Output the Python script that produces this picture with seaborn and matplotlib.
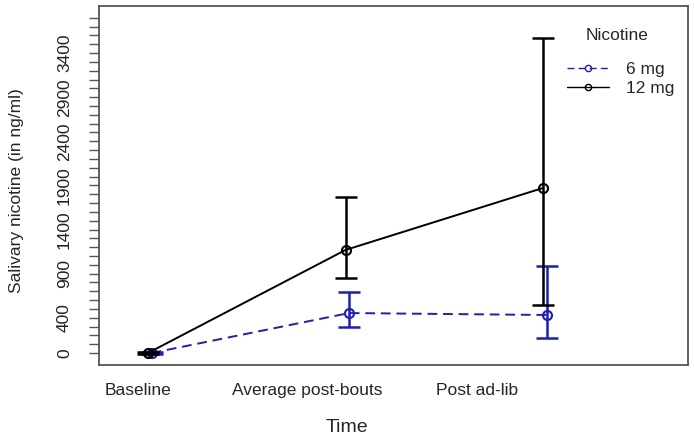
import numpy as np
import pandas as pd
import matplotlib
matplotlib.use("Agg")
import matplotlib.pyplot as plt
import seaborn as sns

times = ["Baseline", "Average post-bouts", "Post ad-lib"]
doses = ["6 mg", "12 mg"]
mean_6 = [0, 453, 431]
low_6 = [-15, 295, 170]
high_6 = [15, 692, 986]
mean_12 = [0, 1168, 1871]
low_12 = [-15, 850, 544]
high_12 = [15, 1769, 3571]

yticks_major = [0, 400, 900, 1400, 1900, 2400, 2900, 3400]

sns.set_theme(style="white")
plt.rcParams["font.family"] = ["Liberation Sans", "DejaVu Sans"]

pos = np.arange(len(times))
df = pd.DataFrame({
    "x": np.concatenate([pos + 0.018, pos]),
    "y": mean_6 + mean_12,
    "lo": low_6 + low_12,
    "hi": high_6 + high_12,
    "Nicotine": [doses[0]] * 3 + [doses[1]] * 3,
})

colors = {"6 mg": "#1c1cc4", "12 mg": "black"}
fig = plt.figure(figsize=(6.94, 4.38), dpi=100)
ax = fig.add_axes([99 / 694, 73 / 438, 589 / 694, 359 / 438])

sns.lineplot(data=df, x="x", y="y", hue="Nicotine", style="Nicotine",
             palette=colors, dashes={"6 mg": (5, 3), "12 mg": ""},
             markers={"6 mg": "o", "12 mg": "o"}, markersize=6.5,
             markeredgewidth=1.5, linewidth=1.4, ax=ax, legend=True)
# open circles, 12 mg drawn on top
for line in ax.lines:
    line.set_markerfacecolor("none")
    line.set_markeredgecolor(line.get_color())
    if line.get_label() == "12 mg" or line.get_color() in ("black", "k"):
        line.set_zorder(4)
for dose, sub in df.groupby("Nicotine"):
    ax.errorbar(sub["x"], sub["y"], yerr=[sub["y"] - sub["lo"], sub["hi"] - sub["y"]],
                fmt="none", ecolor=colors[dose], elinewidth=1.8, capsize=8,
                capthick=1.8, zorder=3 if dose == "12 mg" else 2)

ax.set_xlim(-0.248, 2.734)
ax.set_ylim(-136, 3934)
ax.set_xticks([-0.05, 0.805, 1.666])
ax.set_xticklabels(times, fontsize=12.5)
ax.tick_params(axis="x", length=0, pad=13)
ax.set_yticks(np.arange(0, 3900, 100), minor=True)
ax.set_yticks(yticks_major)
ax.set_yticklabels([str(v) for v in yticks_major], rotation=90, va="center", fontsize=12.5)
ax.tick_params(axis="y", which="both", length=7.5, width=1, color="#555555",
               left=True, pad=12)
ax.tick_params(axis="y", which="major", labelcolor="#222222")
for s in ax.spines.values():
    s.set_color("#555555")
    s.set_linewidth(1.3)
ax.set_xlabel("Time", fontsize=14)
ax.xaxis.set_label_coords(0.421, -0.150)
ax.set_ylabel("Salivary nicotine (in ng/ml)", fontsize=12.5)
ax.yaxis.set_label_coords(-0.128, 0.485)

handles, labels = ax.get_legend_handles_labels()
leg = ax.legend(handles, labels, frameon=False, loc="upper left",
                bbox_to_anchor=((567 - 99) / 589, (365 - 62) / 359),
                borderaxespad=0, borderpad=0, fontsize=12.5,
                handlelength=2.4, handletextpad=1.0, labelspacing=0.2)
for h in leg.legend_handles:
    h.set_markerfacecolor("none")
    h.set_markeredgecolor(h.get_color())
    h.set_markersize(4.5)
    h.set_linewidth(1.0)
    h.set_markeredgewidth(1.0)
ax.text((617 - 99) / 589, (365 - 36) / 359, "Nicotine", transform=ax.transAxes,
        ha="center", va="center", fontsize=12.5)

fig.savefig("out.png", dpi=100)
